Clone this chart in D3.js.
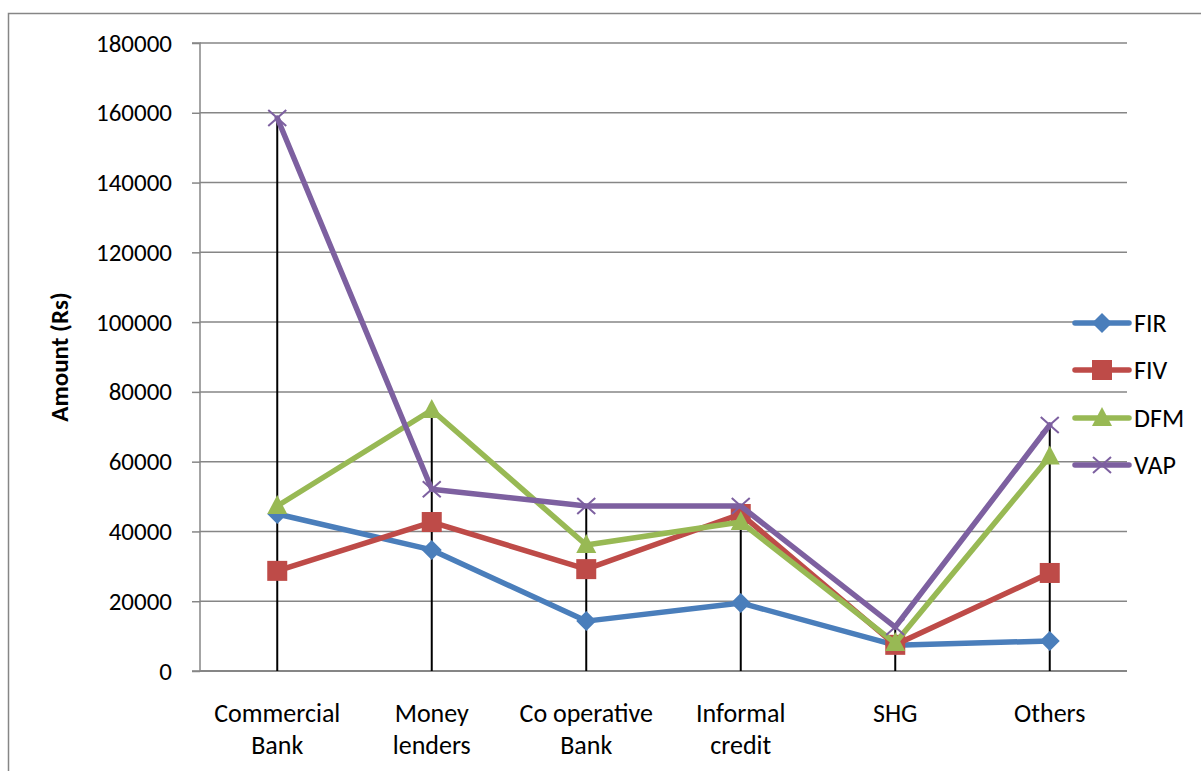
<!DOCTYPE html>
<html>
<head>
<meta charset="utf-8">
<script src="https://cdn.jsdelivr.net/npm/d3@7"></script>
<style>
  html, body { margin: 0; padding: 0; background: #fff; }
  svg { display: block; }
  text { font-family: Carlito, Lato, "Liberation Sans", sans-serif; fill: #000; }
</style>
</head>
<body>
<svg id="chart" width="1201" height="771"></svg>
<script>
// Loan sources and average amounts (Rs) per farm category
const categories = [["Commercial", "Bank"], ["Money", "lenders"], ["Co operative", "Bank"], ["Informal", "credit"], ["SHG"], ["Others"]];
const firValues = [45000, 34700, 14300, 19500, 7400, 8600];
const fivValues = [28700, 42700, 29200, 45000, 7500, 28100];
const dfmValues = [47300, 74800, 36100, 42700, 8000, 61500];
const vapValues = [158500, 52100, 47300, 47300, 12600, 70500];
const yTicks = [0, 20000, 40000, 60000, 80000, 100000, 120000, 140000, 160000, 180000];

const series = [
  { name: "FIR", values: firValues, color: "#4a7ebb", marker: "diamond" },
  { name: "FIV", values: fivValues, color: "#be4b48", marker: "square" },
  { name: "DFM", values: dfmValues, color: "#98b954", marker: "triangle" },
  { name: "VAP", values: vapValues, color: "#7d60a0", marker: "cross" }
];

const svg = d3.select("#chart");
const plot = { left: 200, right: 1127, top: 43, bottom: 671 };

const x = d3.scaleBand().domain(d3.range(categories.length)).range([plot.left, plot.right]).padding(0);
const cx = i => x(i) + x.bandwidth() / 2;
const y = d3.scaleLinear().domain([0, 180000]).range([plot.bottom, plot.top]);

// Outer chart border
svg.append("path")
  .attr("d", `M8.5,771 V13.5 H1201`)
  .attr("fill", "none").attr("stroke", "#868686").attr("stroke-width", 1.5);

// Horizontal gridlines
svg.append("g").selectAll("line").data(yTicks.filter(t => t > 0)).join("line")
  .attr("x1", plot.left).attr("x2", plot.right)
  .attr("y1", d => y(d)).attr("y2", d => y(d))
  .attr("stroke", "#868686").attr("stroke-width", 1.5);

// Y axis
const yAxis = svg.append("g").attr("transform", `translate(${plot.left},0)`)
  .call(d3.axisLeft(y).tickValues(yTicks).tickSize(8).tickPadding(20).tickFormat(d3.format("d")));
yAxis.select(".domain").attr("stroke", "#868686").attr("stroke-width", 1.5).attr("d", `M-8,${plot.top}H0V${plot.bottom}H-8`);
yAxis.selectAll(".tick line").attr("stroke", "#868686").attr("stroke-width", 1.5);
yAxis.selectAll(".tick text").attr("font-size", 25).attr("font-family", "Carlito, Lato, sans-serif").attr("fill", "#000");

// X axis line
svg.append("line")
  .attr("x1", plot.left).attr("x2", plot.right)
  .attr("y1", plot.bottom).attr("y2", plot.bottom)
  .attr("stroke", "#868686").attr("stroke-width", 2);

// Category labels
const catG = svg.append("g");
categories.forEach((lines, i) => {
  const t = catG.append("text").attr("text-anchor", "middle").attr("font-size", 26);
  lines.forEach((ln, j) => {
    t.append("tspan").attr("x", cx(i)).attr("y", 722 + j * 32).text(ln);
  });
});

// Axis title
svg.append("text")
  .attr("transform", `translate(68,357) rotate(-90)`)
  .attr("text-anchor", "middle").attr("font-size", 25).attr("font-weight", "bold")
  .text("Amount (Rs)");

// Drop lines from the highest point of each category to the axis
svg.append("g").selectAll("line").data(categories.map((c, i) => i)).join("line")
  .attr("x1", i => cx(i)).attr("x2", i => cx(i))
  .attr("y1", i => y(d3.max(series, s => s.values[i])))
  .attr("y2", plot.bottom)
  .attr("stroke", "#000").attr("stroke-width", 2);

function drawMarker(g, type, color, px, py) {
  if (type === "diamond") {
    g.append("path").attr("d", `M${px},${py - 10}L${px + 10},${py}L${px},${py + 10}L${px - 10},${py}Z`).attr("fill", color);
  } else if (type === "square") {
    g.append("rect").attr("x", px - 10).attr("y", py - 10).attr("width", 20).attr("height", 20).attr("fill", color);
  } else if (type === "triangle") {
    g.append("path").attr("d", `M${px},${py - 11}L${px + 10},${py + 8}L${px - 10},${py + 8}Z`).attr("fill", color);
  } else if (type === "cross") {
    g.append("path").attr("d", `M${px - 9},${py - 8}L${px + 9},${py + 8}M${px - 9},${py + 8}L${px + 9},${py - 8}`)
      .attr("stroke", color).attr("stroke-width", 2).attr("fill", "none");
  }
}

// Series lines and markers
const line = d3.line().x((d, i) => cx(i)).y(d => y(d));
series.forEach(s => {
  const g = svg.append("g");
  g.append("path").datum(s.values).attr("d", line)
    .attr("fill", "none").attr("stroke", s.color).attr("stroke-width", 5.5)
    .attr("stroke-linejoin", "round").attr("stroke-linecap", "round");
  s.values.forEach((v, i) => drawMarker(g, s.marker, s.color, cx(i), y(v)));
});

// Legend
const legendY = [323, 370, 418, 465];
series.forEach((s, k) => {
  const g = svg.append("g");
  g.append("line").attr("x1", 1075).attr("x2", 1129).attr("y1", legendY[k]).attr("y2", legendY[k])
    .attr("stroke", s.color).attr("stroke-width", 5.5).attr("stroke-linecap", "round");
  drawMarker(g, s.marker, s.color, 1102, legendY[k]);
  g.append("text").attr("x", 1134).attr("y", legendY[k] + 9).attr("font-size", 26).text(s.name);
});
</script>
</body>
</html>
